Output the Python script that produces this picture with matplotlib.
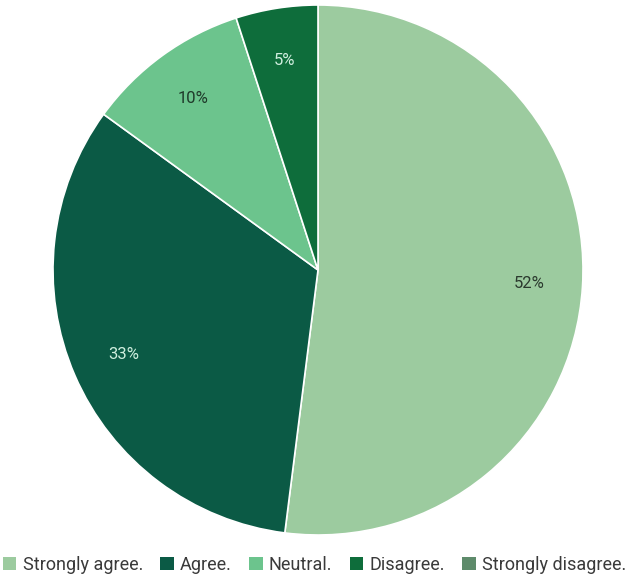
import matplotlib
matplotlib.use("Agg")
import matplotlib.pyplot as plt
from matplotlib.patches import Rectangle

categories = ["Strongly agree.", "Agree.", "Neutral.", "Disagree.", "Strongly disagree."]
values = [52, 33, 10, 5, 0]
colors = ["#9ccb9f", "#0b5a45", "#6cc48d", "#0e6d3b", "#5e8b6b"]
label_colors = ["#2b3a2e", "#cfeede", "#1f3a2a", "#cfeede", "#ffffff"]

plt.rcParams["font.family"] = ["Roboto", "DejaVu Sans"]

fig = plt.figure(figsize=(6.29, 5.82), dpi=100)
ax = fig.add_axes([53 / 629, 47 / 582, 530 / 629, 530 / 582])

pie_vals = [v for v in values if v > 0]
pie_cols = [c for v, c in zip(values, colors) if v > 0]
pie_lcols = [c for v, c in zip(values, label_colors) if v > 0]

wedges, texts, autotexts = ax.pie(
    pie_vals,
    colors=pie_cols,
    startangle=90,
    counterclock=False,
    autopct=lambda p: f"{p:.0f}%",
    pctdistance=0.8,
    wedgeprops=dict(edgecolor="white", linewidth=1.2),
    textprops=dict(fontsize=12),
)
for t, c in zip(autotexts, pie_lcols):
    t.set_color(c)

ax.set_xlim(-1, 1)
ax.set_ylim(-1, 1)
ax.set_aspect("equal")

handles = [Rectangle((0, 0), 1, 1, facecolor=c, edgecolor="none") for c in colors]
fig.legend(
    handles, categories,
    loc="center", bbox_to_anchor=(0.5, 17 / 582), ncol=5, frameon=False,
    fontsize=13, handlelength=0.75, handleheight=0.75, handletextpad=0.35,
    columnspacing=0.95, labelcolor="#3a3a3a",
)

fig.savefig("out.png", dpi=100)
